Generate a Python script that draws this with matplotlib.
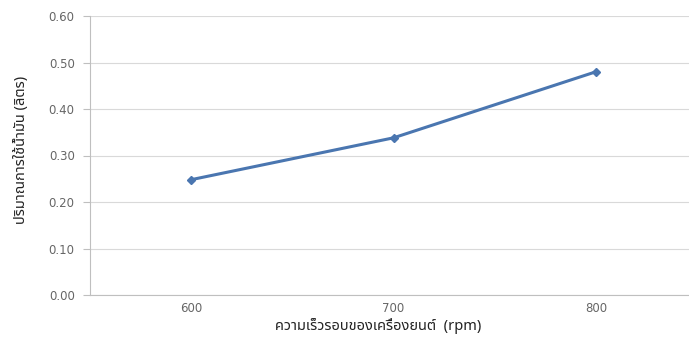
import matplotlib
matplotlib.use("Agg")
import matplotlib.pyplot as plt

categories = ["600", "700", "800"]
values = [0.248, 0.338, 0.480]
yticks = [0.0, 0.1, 0.2, 0.3, 0.4, 0.5, 0.6]
xlabel = "ความเร็วรอบของเครื่องยนต์  (rpm)"
ylabel = "ปริมาณการใช้น้ำมัน (ลิตร)"

fam = ["Noto Sans Thai", "DejaVu Sans"]

fig = plt.figure(figsize=(6.89, 3.49), dpi=100)
ax = fig.add_axes([90/689, 54/349, 607/689, 279/349])
x = list(range(len(categories)))
ax.plot(x, values, color="#4a76b0", lw=2.2, marker="D", ms=4)
ax.set_xlim(-0.5, 2.5)
ax.set_ylim(0, 0.6)
ax.set_yticks(yticks)
ax.set_yticklabels([f"{v:.2f}" for v in yticks])
ax.set_xticks(x)
ax.set_xticklabels(categories)
ax.grid(axis="y", color="#d9d9d9", lw=0.8)
ax.set_axisbelow(True)
for s in ["top", "right"]:
    ax.spines[s].set_visible(False)
ax.spines["left"].set_color("#bfbfbf")
ax.spines["bottom"].set_color("#bfbfbf")
ax.tick_params(axis="y", colors="#bfbfbf", labelcolor="#666666", labelsize=8.5, length=5, pad=6)
ax.tick_params(axis="x", length=0, labelcolor="#666666", labelsize=8.5, pad=5)
ax.set_xlabel(xlabel, family=fam, fontsize=10.5, fontweight="bold", color="#222222")
ax.xaxis.set_label_coords(0.475, -0.083)
ax.set_ylabel(ylabel, family=fam, fontsize=10.5, fontweight="bold", color="#222222")
ax.yaxis.set_label_coords(-0.1, 0.52)
fig.savefig("out.png", dpi=100)
